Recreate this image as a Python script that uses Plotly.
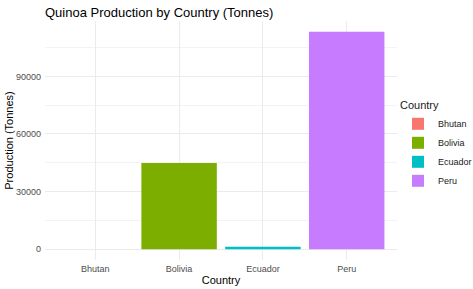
import plotly.graph_objects as go

countries = ["Bhutan", "Bolivia", "Ecuador", "Peru"]
production = [0, 44900, 1200, 113200]
colors = ["#F8766D", "#7CAE00", "#00BFC4", "#C77CFF"]
y_ticks = [0, 30000, 60000, 90000]

FONT = "Liberation Sans, Arial, sans-serif"
W, H = 473, 289
L, R, T, B = 45, 0, 21, 29
panel_right = 397
paper_w = W - L - R

fig = go.Figure()
for c, v, col in zip(countries, production, colors):
    fig.add_trace(go.Bar(x=[c], y=[v], name=c, marker=dict(color=col, line=dict(width=0)),
                         width=0.9, showlegend=True))

fig.update_layout(
    width=W, height=H,
    margin=dict(l=L, r=R, t=T, b=B, autoexpand=False),
    paper_bgcolor="white", plot_bgcolor="white",
    font=dict(family=FONT, color="#000000"),
    title=dict(text="Quinoa Production by Country (Tonnes)", x=45/W, xanchor="left",
               y=1 - 12/H, yanchor="middle", font=dict(size=13, color="#000000")),
    barmode="overlay",
    legend=dict(title=dict(text="Country", font=dict(size=11)), font=dict(size=9, color="#1a1a1a"),
                x=(398 - L)/paper_w, xanchor="left", y=1 - (95 - T)/(H - T - B), yanchor="top",
                tracegroupgap=0, bgcolor="rgba(0,0,0,0)"),
    xaxis=dict(domain=[0, (panel_right - L)/paper_w],
               categoryorder="array", categoryarray=countries, range=[-0.6, 3.6],
               showgrid=True, gridcolor="#EBEBEB", gridwidth=1, zeroline=False, showline=False,
               ticks="", tickfont=dict(size=9, color="#4D4D4D"), automargin=False,
               ticklabelstandoff=2,
               title=dict(text="Country", font=dict(size=11), standoff=3)),
    yaxis=dict(range=[-5660, 118860], tickvals=y_ticks, tickformat="d", automargin=False,
               showgrid=True, gridcolor="#EBEBEB", gridwidth=1, zeroline=False, showline=False,
               ticks="", tickfont=dict(size=9, color="#4D4D4D"), ticklabelstandoff=3,
               minor=dict(dtick=15000, tick0=15000, showgrid=True, gridcolor="#F3F3F3", gridwidth=1),
               title=dict(text="Production (Tonnes)", font=dict(size=11), standoff=0)),
)

fig.write_html("out.html")
